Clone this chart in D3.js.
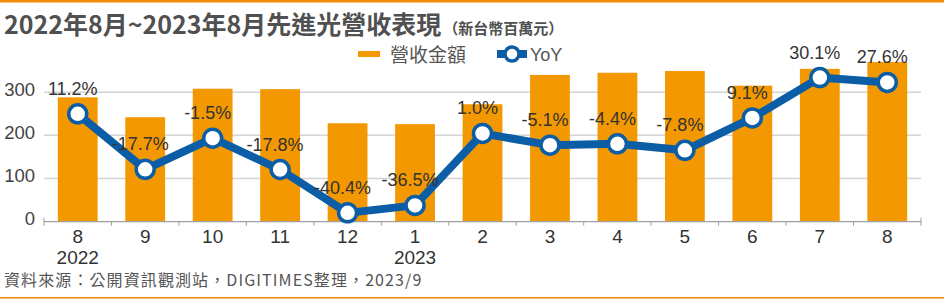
<!DOCTYPE html>
<html>
<head>
<meta charset="utf-8">
<script src="https://cdn.jsdelivr.net/npm/d3@7"></script>
<style>
  body { margin: 0; background: #fff; }
  svg { display: block; }
  .num { font-family: "Liberation Sans", Arial, sans-serif; }
  .cjk { font-family: "Noto Sans CJK TC", "Noto Sans", sans-serif; }
</style>
</head>
<body>
<svg id="chart" width="944" height="300"></svg>
<script>
var periods = ["2022/8","2022/9","2022/10","2022/11","2022/12","2023/1","2023/2","2023/3","2023/4","2023/5","2023/6","2023/7","2023/8"];
var monthLabels = ["8","9","10","11","12","1","2","3","4","5","6","7","8"];
var yearLabels = ["2022","","","","","2023","","","","","","",""];
var revenue = [288, 242, 308, 307, 228, 226, 272, 340, 345, 349, 315, 354, 370];
var yoy = [11.2, -17.7, -1.5, -17.8, -40.4, -36.5, 1.0, -5.1, -4.4, -7.8, 9.1, 30.1, 27.6];
var revTicks = [0, 100, 200, 300];

var orange = "#f39800",
    blue = "#0b5ea6",
    lineOrange = "#f08a00";

var svg = d3.select("#chart");

// plot box (window.top is taken, so no bare "top")
var plotLeft = 44, plotRight = 921, plotTop = 49, plotBottom = 221.7;

var x = d3.scaleBand()
  .domain(periods)
  .range([plotLeft, plotRight])
  .paddingInner(0.41)
  .paddingOuter(0.205);

var y = d3.scaleLinear()
  .domain([0, 400])
  .range([plotBottom, plotTop]);

var y2 = d3.scaleLinear()
  .domain([-45, 45])
  .range([plotBottom, plotTop]);

function cx(i) { return x(periods[i]) + x.bandwidth() / 2; }

// frame lines
svg.append("rect").attr("x", 0).attr("y", 0).attr("width", 944).attr("height", 2.5).attr("fill", lineOrange);
svg.append("rect").attr("x", 0).attr("y", 297).attr("width", 944).attr("height", 1.5).attr("fill", lineOrange);

// title
var title = svg.append("text")
  .attr("class", "cjk")
  .attr("x", 4)
  .attr("y", 34)
  .attr("fill", "#505050")
  .style("font-weight", 700);
title.append("tspan").style("font-size", "25px").text("2022年8月~2023年8月先進光營收表現");
title.append("tspan").attr("dx", 2).style("font-size", "15px").text("（新台幣百萬元）");

// grid
svg.append("g")
  .selectAll("line")
  .data(revTicks.slice(1))
  .join("line")
    .attr("x1", plotLeft)
    .attr("x2", plotRight)
    .attr("y1", function(d){ return y(d); })
    .attr("y2", function(d){ return y(d); })
    .attr("stroke", "#d4d4d4")
    .attr("stroke-width", 1.5);

// y labels
svg.append("g")
  .selectAll("text")
  .data(revTicks)
  .join("text")
    .attr("class", "num")
    .attr("x", 35)
    .attr("y", function(d){ return y(d) - 3; })
    .attr("dy", "0.35em")
    .attr("text-anchor", "end")
    .attr("fill", "#444")
    .style("font-size", "18.5px")
    .text(function(d){ return d; });

// bars
svg.append("g")
  .selectAll("rect")
  .data(revenue)
  .join("rect")
    .attr("x", function(d, i){ return x(periods[i]); })
    .attr("y", function(d){ return y(d); })
    .attr("width", x.bandwidth())
    .attr("height", function(d){ return y(0) - y(d); })
    .attr("fill", orange);

// x axis
var xAxis = svg.append("g");
xAxis.append("line")
  .attr("x1", plotLeft).attr("x2", plotRight)
  .attr("y1", plotBottom).attr("y2", plotBottom)
  .attr("stroke", "#a0a0a0").attr("stroke-width", 1.2);

var step = x.step();
xAxis.selectAll("line.tick")
  .data(d3.range(periods.length + 1))
  .join("line")
    .attr("class", "tick")
    .attr("x1", function(i){ return plotLeft + i * step; })
    .attr("x2", function(i){ return plotLeft + i * step; })
    .attr("y1", function(i){ return (i === 0 || i === periods.length) ? plotBottom - 4 : plotBottom; })
    .attr("y2", plotBottom + 4)
    .attr("stroke", "#a0a0a0").attr("stroke-width", 1);

xAxis.selectAll("text.month")
  .data(monthLabels)
  .join("text")
    .attr("class", "num month")
    .attr("x", function(d, i){ return cx(i); })
    .attr("y", 243)
    .attr("text-anchor", "middle")
    .attr("fill", "#333")
    .style("font-size", "19px")
    .text(function(d){ return d; });

xAxis.selectAll("text.year")
  .data(yearLabels)
  .join("text")
    .attr("class", "num year")
    .attr("x", function(d, i){ return cx(i); })
    .attr("y", 264)
    .attr("text-anchor", "middle")
    .attr("fill", "#333")
    .style("font-size", "19px")
    .text(function(d){ return d; });

// yoy line
var line = d3.line()
  .x(function(d, i){ return cx(i); })
  .y(function(d){ return y2(d); });

svg.append("path")
  .attr("d", line(yoy))
  .attr("fill", "none")
  .attr("stroke", blue)
  .attr("stroke-width", 8)
  .attr("stroke-linejoin", "round");

svg.append("g")
  .selectAll("circle")
  .data(yoy)
  .join("circle")
    .attr("cx", function(d, i){ return cx(i); })
    .attr("cy", function(d){ return y2(d); })
    .attr("r", 9)
    .attr("fill", "#fff")
    .attr("stroke", blue)
    .attr("stroke-width", 3.5);

svg.append("g")
  .selectAll("text")
  .data(yoy)
  .join("text")
    .attr("class", "num")
    .attr("x", function(d, i){ return cx(i) - 5; })
    .attr("y", function(d){ return y2(d) - 19; })
    .attr("text-anchor", "middle")
    .attr("fill", "#333")
    .style("font-size", "18px")
    .text(function(d){ return d.toFixed(1) + "%"; });

// legend
var legend = svg.append("g");
legend.append("rect")
  .attr("x", 358).attr("y", 51).attr("width", 22).attr("height", 6)
  .attr("fill", orange);
legend.append("text")
  .attr("class", "cjk")
  .attr("x", 390).attr("y", 55).attr("dy", "0.35em")
  .attr("fill", "#555")
  .style("font-size", "19px")
  .text("營收金額");
legend.append("line")
  .attr("x1", 497).attr("x2", 527).attr("y1", 54).attr("y2", 54)
  .attr("stroke", blue).attr("stroke-width", 8);
legend.append("circle")
  .attr("cx", 512).attr("cy", 54).attr("r", 7)
  .attr("fill", "#fff").attr("stroke", blue).attr("stroke-width", 3.5);
legend.append("text")
  .attr("class", "num")
  .attr("x", 530).attr("y", 55).attr("dy", "0.35em")
  .attr("fill", "#555")
  .style("font-size", "18px")
  .text("YoY");

// source
svg.append("text")
  .attr("class", "cjk")
  .attr("x", 4)
  .attr("y", 286)
  .attr("fill", "#555")
  .style("font-size", "16px")
  .style("letter-spacing", "1.1px")
  .text("資料來源：公開資訊觀測站，DIGITIMES整理，2023/9");
</script>
</body>
</html>
